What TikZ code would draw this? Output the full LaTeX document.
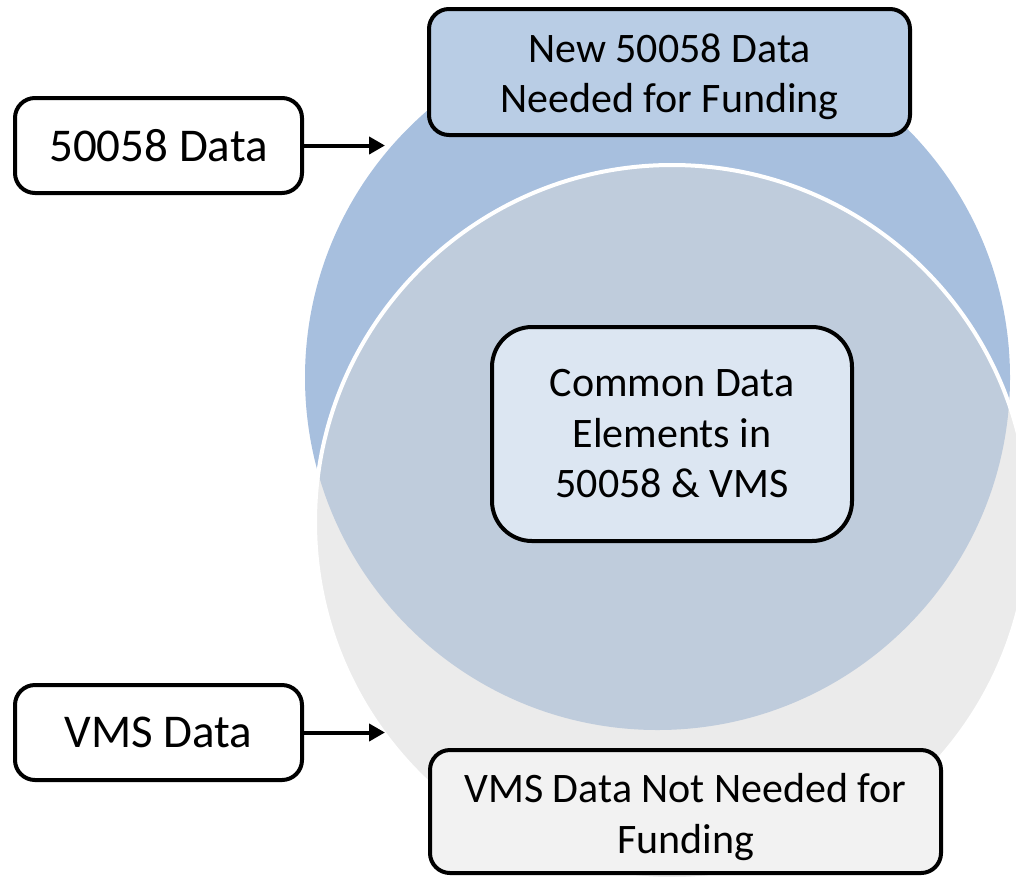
\documentclass[tikz,border=0pt]{standalone}
\usepackage{fontspec}
\setmainfont{Carlito}
\usetikzlibrary{arrows.meta}
\definecolor{blueC}{HTML}{A7BFDE}
\definecolor{grayC}{HTML}{EBEBEB}
\definecolor{interC}{HTML}{BFCCDC}
\definecolor{topF}{HTML}{B9CDE5}
\definecolor{midF}{HTML}{DCE6F2}
\definecolor{botF}{HTML}{F2F2F2}
\tikzset{
  box/.style={draw=black, line width=4pt, rounded corners=20pt, align=center, inner sep=0pt},
  leftbox/.style={box, fill=white, minimum width=287pt, minimum height=95pt, font=\fontsize{47}{56}\selectfont},
  bigtext/.style={font=\fontsize{42}{50.5}\selectfont},
  conn/.style={line width=4pt, -{Triangle[length=16pt,width=17pt]}}
}
\begin{document}
\begin{tikzpicture}[x=1pt,y=-1pt]
\useasboundingbox (0,0) rectangle (1016,876);
% circles
\fill[blueC] (657.5,377.5) circle [radius=352.5pt];
\fill[grayC] (672,522) circle [radius=357pt];
\begin{scope}
  \clip (657.5,377.5) circle [radius=352.5pt];
  \fill[interC] (672,522) circle [radius=357pt];
\end{scope}
\draw[white, line width=4pt] (672,522) circle [radius=357pt];
% boxes
\node[leftbox] (b1) at (158.5,145.5) {50058 Data};
\node[leftbox] (b2) at (158.5,732.5) {VMS Data};
\node[box, bigtext, fill=topF, minimum width=481pt, minimum height=126pt] (top) at (669.5,72) {\rule{0pt}{38pt}New 50058 Data\\Needed for Funding};
\node[box, bigtext, fill=midF, rounded corners=40pt, minimum width=360pt, minimum height=214pt] (mid) at (672,434) {Common Data\\Elements in\\50058 \& VMS};
\node[box, bigtext, fill=botF, minimum width=511pt, minimum height=123pt] (bot) at (685.5,811.5) {\rule{0pt}{40pt}VMS Data Not Needed for\\Funding};
% arrows
\coordinate (a1) at (385,145.5);
\coordinate (a2) at (385,732.5);
\draw[conn] (b1.east) -- (a1);
\draw[conn] (b2.east) -- (a2);
\end{tikzpicture}
\end{document}
